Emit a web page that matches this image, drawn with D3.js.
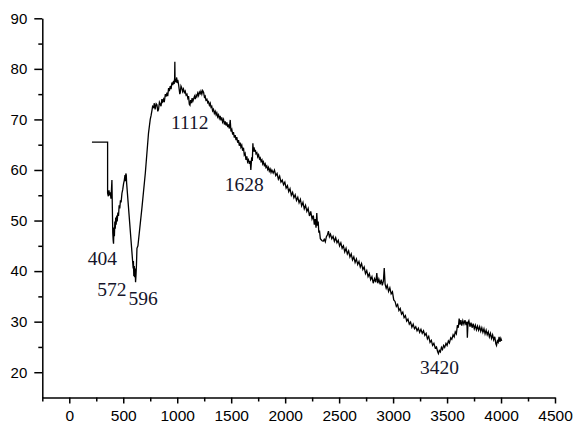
<!DOCTYPE html>
<html>
<head>
<meta charset="utf-8">
<script src="https://cdn.jsdelivr.net/npm/d3@7"></script>
<style>
  body { margin: 0; background: #fff; }
</style>
</head>
<body>
<svg id="chart" width="575" height="423"></svg>
<script>
// Spectrum, [wavenumber, transmittance]
const spectrum = [
  [210,65.5],[355,65.5],[355,55.4],[362,54.8],[368,56.0],[373,55.0],[380,55.6],[386,54.3],[391,56.2],[395,58.0],
  [399,52.5],[403,47.5],[407,46.0],[410,45.4],[414,48.6],[418,46.9],[422,49.8],[426,48.4],[430,50.6],[434,49.2],
  [440,51.0],[444,49.8],[450,51.6],[456,50.9],[462,53.0],[468,52.4],[474,54.0],[480,53.6],[488,55.4],[495,56.1],
  [503,57.3],[510,58.0],[516,59.0],[520,57.8],[524,59.3],[528,59.0],[531,57.5],[592,40.5],[594,42.0],[598,39.0],
  [602,41.0],[606,38.8],[610,40.5],[614,37.8],[618,39.2],[622,41.0],[627,44.5],[636,45.0],[673,52.5],[705,59.5],
  [734,67.3],[750,70.0],[758,70.8],[766,71.8],[772,72.6],[781,72.4],[788,73.2],[795,72.0],[805,73.1],[812,72.9],
  [820,71.6],[827,72.0],[835,73.4],[843,73.0],[850,72.6],[858,74.0],[865,73.5],[873,74.0],[880,73.4],[890,75.0],
  [897,74.5],[905,75.3],[912,74.6],[920,76.2],[927,75.6],[935,76.6],[943,76.0],[951,77.3],[958,76.8],[966,77.6],
  [972,77.0],[976,78.2],[978,81.4],[980,77.4],[985,78.0],[988,77.3],[995,78.3],[1000,77.2],[1005,77.8],[1012,77.0],
  [1018,76.0],[1024,75.0],[1028,75.3],[1035,76.6],[1043,76.2],[1050,75.5],[1058,76.0],[1066,75.3],[1074,75.6],[1082,74.8],
  [1090,75.0],[1098,74.2],[1105,74.6],[1112,73.0],[1118,72.8],[1124,73.8],[1130,73.2],[1138,74.2],[1145,73.6],[1151,74.0],
  [1160,74.6],[1168,74.0],[1175,74.8],[1182,74.5],[1190,75.2],[1198,74.7],[1205,75.4],[1213,75.1],[1220,75.6],[1228,75.0],
  [1236,75.7],[1244,75.4],[1252,74.4],[1259,74.6],[1266,73.8],[1275,74.0],[1283,73.3],[1290,73.5],[1298,72.8],[1306,73.2],
  [1313,72.4],[1320,72.6],[1328,71.7],[1336,72.0],[1344,71.2],[1352,71.6],[1360,70.9],[1367,71.3],[1375,70.5],[1383,70.9],
  [1390,70.2],[1398,70.7],[1405,69.8],[1413,70.4],[1420,69.5],[1429,70.0],[1437,69.0],[1445,69.6],[1452,68.8],[1460,69.4],
  [1468,68.5],[1475,69.0],[1483,68.2],[1491,69.9],[1498,67.6],[1506,68.0],[1514,67.0],[1521,67.5],[1529,66.4],[1537,66.9],
  [1545,65.9],[1552,66.5],[1560,65.4],[1568,65.9],[1575,64.8],[1583,65.4],[1590,64.5],[1598,64.9],[1606,63.8],[1614,64.4],
  [1621,63.0],[1629,63.3],[1637,62.0],[1645,62.7],[1652,61.6],[1660,62.0],[1668,61.2],[1676,61.8],[1682,60.0],[1690,62.5],
  [1696,61.8],[1701,65.3],[1706,63.6],[1712,64.5],[1718,63.6],[1724,64.0],[1730,63.2],[1738,63.4],[1746,62.6],[1754,63.0],
  [1762,62.2],[1769,62.4],[1777,61.7],[1785,62.0],[1792,61.2],[1799,61.6],[1807,60.9],[1815,61.2],[1822,60.5],[1830,60.8],
  [1838,60.1],[1846,60.5],[1853,59.8],[1861,60.2],[1869,59.5],[1877,60.0],[1889,59.4],[1901,60.0],[1913,58.9],[1925,59.3],
  [1937,58.2],[1949,58.8],[1961,57.6],[1973,58.0],[1985,57.1],[1997,57.6],[2009,56.4],[2021,56.9],[2033,55.7],[2045,56.3],
  [2057,55.0],[2069,55.6],[2081,54.5],[2093,55.1],[2105,54.0],[2117,54.6],[2129,53.5],[2141,54.2],[2153,52.9],[2165,53.6],
  [2177,52.3],[2189,53.0],[2201,51.8],[2213,52.4],[2225,50.9],[2237,51.8],[2249,50.3],[2261,51.0],[2270,49.2],[2278,50.3],
  [2286,48.6],[2293,51.5],[2299,49.0],[2306,49.8],[2312,47.6],[2318,48.0],[2326,46.4],[2334,46.2],[2342,46.0],[2352,45.9],
  [2362,46.3],[2372,45.8],[2382,46.8],[2392,47.2],[2401,47.9],[2410,46.8],[2420,47.3],[2432,46.4],[2444,46.9],[2456,45.9],
  [2468,46.6],[2480,45.6],[2492,46.1],[2504,45.0],[2516,45.6],[2528,44.5],[2540,45.0],[2552,43.8],[2564,44.5],[2576,43.4],
  [2588,44.0],[2600,42.8],[2612,43.4],[2624,42.2],[2636,42.8],[2648,41.7],[2660,42.4],[2672,41.3],[2684,41.9],[2696,40.8],
  [2708,41.5],[2720,40.3],[2732,40.8],[2744,39.5],[2756,40.1],[2768,38.9],[2780,39.5],[2792,38.3],[2804,38.9],[2816,37.6],
  [2828,38.5],[2840,37.8],[2849,39.6],[2858,37.6],[2868,38.4],[2880,37.4],[2890,38.3],[2900,37.2],[2910,38.0],[2918,40.6],
  [2926,37.4],[2936,36.6],[2946,37.2],[2958,36.0],[2970,36.7],[2982,35.5],[2994,35.9],[3006,34.3],[3018,34.0],[3030,33.0],
  [3042,33.4],[3054,32.2],[3066,32.6],[3078,31.5],[3090,31.9],[3102,30.8],[3114,31.2],[3126,30.1],[3138,30.5],[3150,29.5],
  [3162,29.9],[3174,28.9],[3186,29.5],[3198,28.6],[3210,29.0],[3222,28.2],[3234,28.7],[3246,27.9],[3258,28.5],[3270,27.7],
  [3282,28.2],[3294,27.3],[3306,27.7],[3318,26.6],[3330,27.1],[3342,25.9],[3354,26.3],[3366,25.3],[3378,25.7],[3390,24.8],
  [3402,25.0],[3412,24.1],[3420,23.7],[3428,24.3],[3438,24.0],[3448,24.9],[3458,24.5],[3468,25.3],[3478,24.9],[3490,25.7],
  [3500,25.3],[3512,26.2],[3522,25.8],[3534,26.8],[3544,26.5],[3556,27.4],[3566,27.0],[3576,28.0],[3586,27.6],[3596,29.3],
  [3604,28.8],[3612,30.6],[3620,29.4],[3628,30.3],[3636,29.2],[3646,30.2],[3656,29.5],[3666,30.3],[3676,29.3],[3684,30.0],
  [3688,26.8],[3694,29.8],[3702,30.2],[3712,29.0],[3722,29.8],[3732,28.8],[3742,29.6],[3752,28.6],[3762,29.3],[3772,28.4],
  [3782,29.1],[3792,28.3],[3802,29.0],[3812,28.1],[3822,28.8],[3832,27.9],[3842,28.6],[3852,27.6],[3862,28.3],[3872,27.4],
  [3882,28.0],[3892,27.0],[3902,27.7],[3912,26.7],[3922,27.4],[3932,26.4],[3942,27.0],[3952,25.6],[3958,25.3],[3966,26.2],
  [3974,25.9],[3982,27.0],[3990,26.0],[3998,26.7],[4006,26.2]
];

// Axis ticks
const xTicks = [0, 500, 1000, 1500, 2000, 2500, 3000, 3500, 4000, 4500];
const xMinorTicks = [-250, 250, 750, 1250, 1750, 2250, 2750, 3250, 3750, 4250];
const yTicks = [20, 30, 40, 50, 60, 70, 80, 90];
const yMinorTicks = [25, 35, 45, 55, 65, 75, 85];

// Peak labels and where they sit (data units, baseline)
const peakLabels = ["404", "572", "596", "1112", "1628", "3420"];
const labelX = [306, 394, 685, 1116, 1620, 3431];
const labelY = [41.2, 35.1, 33.3, 68.1, 55.9, 19.6];

const svg = d3.select("#chart");

const x = d3.scaleLinear().domain([-250, 4500]).range([42.3, 555]);
const y = d3.scaleLinear().domain([15, 90]).range([397.5, 18.3]);

// y axis
const yAxis = svg.append("g")
  .attr("transform", "translate(" + x(-250) + ",0)")
  .call(d3.axisLeft(y).tickValues(yTicks).tickSize(8).tickPadding(7).tickSizeOuter(0));
svg.append("g")
  .attr("transform", "translate(" + x(-250) + ",0)")
  .call(d3.axisLeft(y).tickValues(yMinorTicks).tickSize(4).tickFormat(""))
  .call(g => g.select(".domain").remove());

// x axis
const xAxis = svg.append("g")
  .attr("transform", "translate(0," + y(15) + ")")
  .call(d3.axisBottom(x).tickValues(xTicks).tickFormat(d3.format("d"))
    .tickSize(6).tickPadding(6).tickSizeOuter(0));
svg.append("g")
  .attr("transform", "translate(0," + y(15) + ")")
  .call(d3.axisBottom(x).tickValues(xMinorTicks).tickSize(4).tickFormat(""))
  .call(g => g.select(".domain").remove());

svg.selectAll(".domain, .tick line")
  .attr("stroke", "#000")
  .attr("stroke-width", 1.5);

yAxis.selectAll("text")
  .attr("fill", "#000")
  .style("font-family", "'Liberation Sans', Arial, sans-serif")
  .style("font-size", "15px");
xAxis.selectAll("text")
  .attr("fill", "#000")
  .style("font-family", "'Liberation Sans', Arial, sans-serif")
  .style("font-size", "15.5px");

// the spectrum line
const line = d3.line()
  .x(d => x(d[0]))
  .y(d => y(d[1]));

svg.append("path")
  .datum(spectrum)
  .attr("d", line)
  .attr("fill", "none")
  .attr("stroke", "#000")
  .attr("stroke-width", 1.3)
  .attr("stroke-linejoin", "miter");

// peak labels
svg.selectAll(".peak")
  .data(peakLabels)
  .enter()
  .append("text")
  .attr("class", "peak")
  .attr("x", (d, i) => x(labelX[i]))
  .attr("y", (d, i) => y(labelY[i]))
  .attr("text-anchor", "middle")
  .attr("fill", "#14142a")
  .style("font-family", "'Liberation Serif', 'Times New Roman', serif")
  .style("font-size", "19.5px")
  .text(d => d);
</script>
</body>
</html>
